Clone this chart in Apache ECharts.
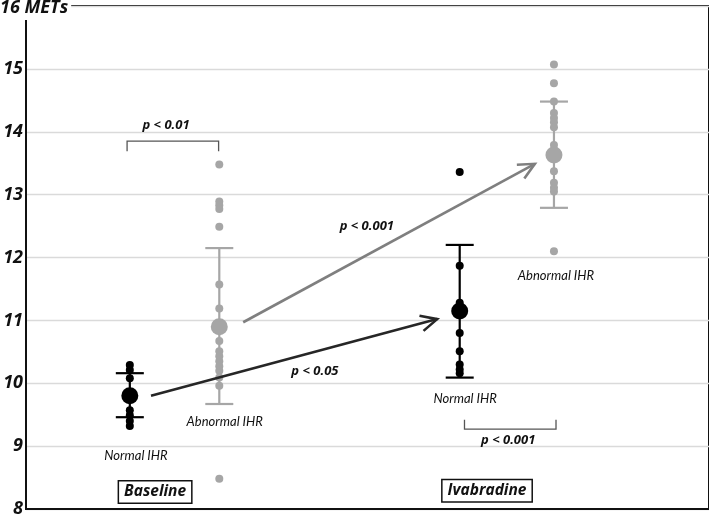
<!DOCTYPE html>
<html><head><meta charset="utf-8">
<script src="https://cdn.jsdelivr.net/npm/echarts@6/dist/echarts.min.js"></script>
<style>html,body{margin:0;padding:0;background:#fff}#c{width:709px;height:518px}</style>
</head><body><div id="c"></div>
<script>
// ---- data ----
const groupNames = ['Baseline Normal IHR', 'Baseline Abnormal IHR', 'Ivabradine Normal IHR', 'Ivabradine Abnormal IHR'];
const groupX = [1.52, 2.83, 6.35, 7.73];
const baselineNormal = [10.29, 10.21, 10.08, 9.57, 9.49, 9.40, 9.32];
const baselineAbnormal = [13.48, 12.89, 12.83, 12.77, 12.49, 11.57, 11.19, 10.67, 10.51, 10.43, 10.35, 10.27, 10.20, 10.09, 9.96, 8.48];
const ivabradineNormal = [13.36, 11.87, 11.28, 10.80, 10.51, 10.30, 10.22, 10.16];
const ivabradineAbnormal = [15.07, 14.77, 14.48, 14.30, 14.22, 14.15, 14.07, 13.79, 13.37, 13.19, 13.11, 13.05, 12.10];
const groupMeans = [9.80, 10.90, 11.15, 13.63];
const errLow = [9.46, 9.67, 10.09, 12.79];
const errHigh = [10.16, 12.15, 12.20, 14.48];
const yTicks = [8, 9, 10, 11, 12, 13, 14, 15, 16];
// arrows: [x1, y1, x2, y2]
const grayArrow = [3.18, 10.97, 7.45, 13.49];
const blackArrow = [1.83, 9.80, 6.02, 11.02];
// brackets: [x1, x2, yBar, yEnds]
const bracketTop = [1.48, 2.82, 13.85, 13.69];
const bracketBottom = [6.42, 7.76, 9.27, 9.42];
// annotation texts and their data positions
const groupLabels = ['Normal IHR', 'Abnormal IHR', 'Normal IHR', 'Abnormal IHR'];
const groupLabelPos = [[1.61, 8.84], [2.91, 9.38], [6.43, 9.76], [7.76, 11.71]];
const pLabels = ['p < 0.01', 'p < 0.001', 'p < 0.05', 'p < 0.001'];
const pLabelPos = [[2.05, 14.11], [4.99, 12.49], [4.23, 10.19], [7.06, 9.10]];
const phaseLabels = ['Baseline', 'Ivabradine'];
const phaseLabelPos = [[1.89, 8.27], [6.75, 8.29]];

// ---- build ----
const BLACK = '#000', GRAY = '#a6a6a6';
const groupColors = [BLACK, GRAY, BLACK, GRAY];
const groupValues = [baselineNormal, baselineAbnormal, ivabradineNormal, ivabradineAbnormal];
const FONT = 'Lato, "Open Sans", sans-serif';
const BFONT = '"Open Sans", Lato, sans-serif';

function pts(idxs) {
  const out = [];
  idxs.forEach(i => groupValues[i].forEach(v => out.push([groupX[i], v])));
  return out;
}

function textSeries(name, texts, positions, font, boxed) {
  return { type: 'custom', name: name, z: 6, silent: true,
    data: positions,
    renderItem: (params, api) => {
      const p = api.coord([api.value(0), api.value(1)]);
      const style = { text: texts[params.dataIndex], x: p[0], y: p[1], font: font, fill: '#111',
        align: 'center', verticalAlign: 'middle' };
      if (boxed) {
        style.backgroundColor = '#fff'; style.borderColor = '#111'; style.borderWidth = 1.5; style.padding = [3, 5, 2, 5];
      }
      return { type: 'text', style: style };
    } };
}

const chart = echarts.init(document.getElementById('c'));
chart.setOption({
  animation: false,
  backgroundColor: '#fff',
  grid: { left: 26, right: 0, top: 6, bottom: 8, show: true, borderColor: '#111', borderWidth: 2 },
  xAxis: { type: 'value', min: 0, max: 10, axisLabel: { show: false }, axisTick: { show: false }, splitLine: { show: false },
    axisLine: { show: true, lineStyle: { color: '#111', width: 2 } } },
  yAxis: { type: 'value', min: yTicks[0], max: yTicks[yTicks.length - 1], interval: 1,
    axisLine: { show: true, lineStyle: { color: '#111', width: 2 } }, axisTick: { show: false },
    splitLine: { show: true, lineStyle: { color: '#dadada', width: 1.3 } },
    axisLabel: { margin: 3, color: '#111', fontFamily: BFONT, fontStyle: 'italic', fontWeight: 'bold', fontSize: 18,
      formatter: v => (v === 16 ? '' : String(v)) } },
  graphic: [{ type: 'text', left: 0, top: -1, z: 100,
    style: { text: '16 METs', font: 'italic bold 18px ' + BFONT, fill: '#111', backgroundColor: '#fff', padding: [0, 3, 3, 0] } }],
  series: [
    { type: 'custom', name: 'error bars', z: 2,
      data: groupX.map((x, i) => [x, errLow[i], errHigh[i], i]),
      renderItem: (params, api) => {
        const x = api.value(0), lo = api.coord([x, api.value(1)]), hi = api.coord([x, api.value(2)]);
        const c = groupColors[api.value(3)];
        const st = { stroke: c, lineWidth: 2.2 };
        const w = 14;
        return { type: 'group', children: [
          { type: 'line', shape: { x1: lo[0], y1: lo[1], x2: hi[0], y2: hi[1] }, style: st },
          { type: 'line', shape: { x1: lo[0] - w, y1: lo[1], x2: lo[0] + w, y2: lo[1] }, style: st },
          { type: 'line', shape: { x1: hi[0] - w, y1: hi[1], x2: hi[0] + w, y2: hi[1] }, style: st }
        ] };
      } },
    { type: 'scatter', name: 'normal points', z: 3, symbolSize: 8, itemStyle: { color: BLACK, opacity: 1 }, data: pts([0, 2]) },
    { type: 'scatter', name: 'abnormal points', z: 3, symbolSize: 8, itemStyle: { color: GRAY, opacity: 1 }, data: pts([1, 3]) },
    { type: 'scatter', name: 'means', z: 4, symbolSize: 17,
      data: groupX.map((x, i) => ({ value: [x, groupMeans[i]], itemStyle: { color: groupColors[i], opacity: 1 } })) },
    { type: 'custom', name: 'arrows', z: 5,
      data: [grayArrow.concat([0]), blackArrow.concat([1])],
      renderItem: (params, api) => {
        const a = api.coord([api.value(0), api.value(1)]), b = api.coord([api.value(2), api.value(3)]);
        const c = api.value(4) === 0 ? '#7f7f7f' : '#262626';
        const ang = Math.atan2(a[1] - b[1], a[0] - b[0]);
        const L = 18, s = 0.45;
        const p1 = [b[0] + L * Math.cos(ang + s), b[1] + L * Math.sin(ang + s)];
        const p2 = [b[0] + L * Math.cos(ang - s), b[1] + L * Math.sin(ang - s)];
        const st = { stroke: c, lineWidth: 2.6, fill: null };
        return { type: 'group', children: [
          { type: 'line', shape: { x1: a[0], y1: a[1], x2: b[0], y2: b[1] }, style: st },
          { type: 'polyline', shape: { points: [p1, b, p2] }, style: st }
        ] };
      } },
    { type: 'custom', name: 'brackets', z: 5,
      data: [bracketTop, bracketBottom],
      renderItem: (params, api) => {
        const x1 = api.value(0), x2 = api.value(1), yb = api.value(2), ye = api.value(3);
        return { type: 'polyline', shape: { points: [api.coord([x1, ye]), api.coord([x1, yb]), api.coord([x2, yb]), api.coord([x2, ye])] },
          style: { stroke: '#555', lineWidth: 1.3, fill: null } };
      } },
    textSeries('group labels', groupLabels, groupLabelPos, 'italic 13px ' + FONT, false),
    textSeries('p labels', pLabels, pLabelPos, 'italic bold 13px ' + BFONT, false),
    textSeries('phase labels', phaseLabels, phaseLabelPos, 'italic bold 15.5px ' + BFONT, true)
  ]
});
</script>
</body></html>
